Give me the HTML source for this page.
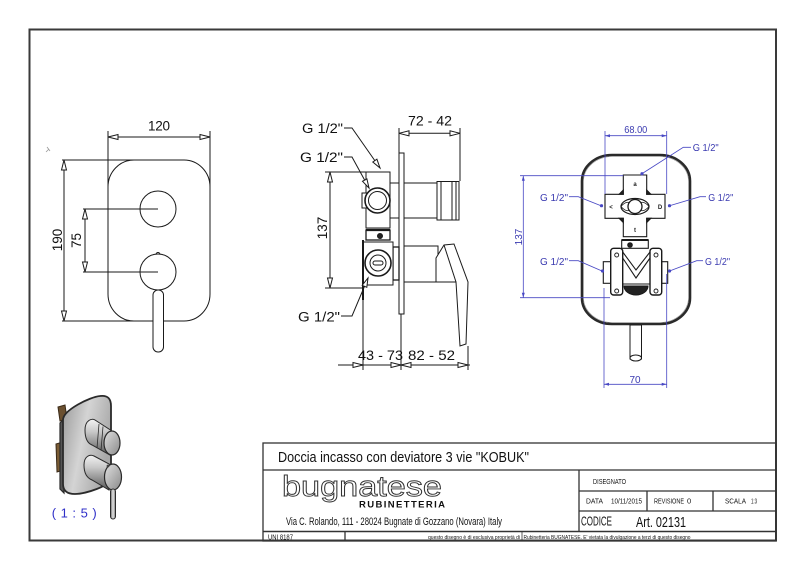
<!DOCTYPE html>
<html><head><meta charset="utf-8"><style>
html,body{margin:0;padding:0;background:#fff;}
svg{display:block;}
text{font-family:"Liberation Sans",Arial,sans-serif;}
.n{font-family:"Liberation Sans Narrow","Liberation Sans",sans-serif;}
</style></head><body>
<svg width="800" height="565" viewBox="0 0 800 565" xmlns="http://www.w3.org/2000/svg">
<defs>
<linearGradient id="pl" x1="0" y1="0" x2="1" y2="0.4">
<stop offset="0" stop-color="#9a9a9a"/><stop offset="0.5" stop-color="#d4d4d4"/><stop offset="1" stop-color="#a8a8a8"/></linearGradient>
<linearGradient id="cy" x1="0" y1="0" x2="0" y2="1">
<stop offset="0" stop-color="#f2f2f2"/><stop offset="0.35" stop-color="#c8c8c8"/><stop offset="1" stop-color="#5a5a5a"/></linearGradient>
<linearGradient id="ef" x1="0" y1="0" x2="1" y2="1">
<stop offset="0" stop-color="#e0e0e0"/><stop offset="1" stop-color="#8a8a8a"/></linearGradient>
<linearGradient id="lv" x1="0" y1="0" x2="1" y2="0">
<stop offset="0" stop-color="#666"/><stop offset="0.5" stop-color="#e6e6e6"/><stop offset="1" stop-color="#777"/></linearGradient>
</defs>
<rect x="0" y="0" width="800" height="565" fill="#fff"/>
<!-- frame -->
<rect x="29.5" y="29.5" width="746.5" height="511" fill="none" stroke="#3a3a3a" stroke-width="2"/>

<!-- ===== FRONT VIEW ===== -->
<g fill="none" stroke="#1a1a1a" stroke-width="1">
<path d="M46,152 l3,-3 M47,147 l3,4" stroke="#999" stroke-width="0.8"/>
<rect x="108" y="160" width="102" height="161" rx="26" ry="27"/>
<circle cx="158" cy="209" r="18"/>
<circle cx="158" cy="272" r="18"/>
<path d="M156,254.5 a2,2 0 0 1 4,0"/>
<rect x="153" y="290" width="10.5" height="62" rx="5" fill="#fff"/>
<!-- 120 -->
<line x1="108" y1="131" x2="108" y2="190"/>
<line x1="210" y1="131" x2="210" y2="190"/>
<line x1="108" y1="137" x2="210" y2="137"/>
<polygon points="108,137 118,134.5 118,139.5" fill="#fff"/>
<polygon points="210,137 200,134.5 200,139.5" fill="#fff"/>
<!-- 190 -->
<line x1="62" y1="160" x2="140" y2="160"/>
<line x1="62" y1="321" x2="140" y2="321"/>
<line x1="64" y1="160" x2="64" y2="321"/>
<polygon points="64,160 61.5,170 66.5,170" fill="#fff"/>
<polygon points="64,321 61.5,311 66.5,311" fill="#fff"/>
<!-- 75 -->
<line x1="83" y1="209" x2="158" y2="209"/>
<line x1="83" y1="272" x2="158" y2="272"/>
<line x1="85" y1="209" x2="85" y2="272"/>
<polygon points="85,209 82.5,219 87.5,219" fill="#fff"/>
<polygon points="85,272 82.5,262 87.5,262" fill="#fff"/>
</g>
<g fill="#111" font-size="13.5">
<text x="159" y="130.5" text-anchor="middle" textLength="22">120</text>
<text transform="translate(62,240) rotate(-90)" text-anchor="middle">190</text>
<text transform="translate(81,240.5) rotate(-90)" text-anchor="middle">75</text>
</g>

<!-- ===== SIDE VIEW ===== -->
<g fill="#fff" stroke="#1a1a1a" stroke-width="1">
<rect x="399" y="153" width="5" height="161"/>
<rect x="404" y="183" width="33" height="35"/>
<rect x="437" y="181.5" width="22" height="38.5"/>
<line x1="441" y1="181.5" x2="441" y2="220"/>
<line x1="452" y1="181.5" x2="452" y2="220"/>
<line x1="456" y1="181.5" x2="456" y2="220"/>
<rect x="390" y="183" width="9" height="35"/>
<rect x="366" y="172" width="24" height="56"/>
<rect x="362" y="193" width="5" height="15"/>
<circle cx="377.5" cy="200.5" r="12.5" stroke-width="1.6"/>
<circle cx="377.5" cy="200.5" r="9"/>
<rect x="366" y="230" width="24" height="10" stroke-width="1.3"/>
<line x1="366" y1="230" x2="390" y2="230" stroke-width="2.2"/>
<circle cx="380" cy="236" r="2.5" fill="#222"/>
<rect x="404" y="246" width="34" height="36"/>
<path d="M436,258 L444,245 L454,244 L468,282 L466,344 L460,346 L456,282 L436,282 Z"/>
<line x1="444" y1="245" x2="456" y2="282"/>
<rect x="393" y="247" width="6" height="33" stroke-width="1.3"/>
<rect x="363" y="242" width="30" height="43"/>
<line x1="363" y1="240" x2="363" y2="300" stroke-width="2"/>
<circle cx="378" cy="263" r="13" stroke-width="1.6"/>
<circle cx="378" cy="263" r="8"/>
<rect x="373" y="261" width="10" height="4" rx="2"/>
</g>
<g fill="none" stroke="#1a1a1a" stroke-width="1">
<!-- 72-42 -->
<line x1="399" y1="128" x2="399" y2="153"/>
<line x1="460" y1="128" x2="460" y2="181"/>
<line x1="399" y1="133.3" x2="460" y2="133.3"/>
<polygon points="399,133.3 409,130.8 409,135.8" fill="#fff"/>
<polygon points="460,133.3 450,130.8 450,135.8" fill="#fff"/>
<!-- 137 -->
<line x1="325" y1="172" x2="366" y2="172"/>
<line x1="325" y1="288" x2="362" y2="288"/>
<line x1="330" y1="172" x2="330" y2="288"/>
<polygon points="330,172 327.5,182 332.5,182" fill="#fff"/>
<polygon points="330,288 327.5,278 332.5,278" fill="#fff"/>
<!-- bottom -->
<line x1="363" y1="290" x2="363" y2="370"/>
<line x1="401" y1="314" x2="401" y2="370"/>
<line x1="468" y1="346" x2="468" y2="370"/>
<line x1="338" y1="365" x2="470" y2="365"/>
<polygon points="363,365 353,362.5 353,367.5" fill="#fff"/>
<polygon points="401,365 391,362.5 391,367.5" fill="#fff"/>
<polygon points="401,365 411,362.5 411,367.5" fill="#fff"/>
<polygon points="468,365 458,362.5 458,367.5" fill="#fff"/>
<!-- leaders -->
<polyline points="344,128 352,128 380,168"/>
<polygon points="380,168 372.8,162 376.9,159.2" fill="#fff"/>
<polyline points="344,157 352,157 369,188"/>
<polygon points="369,188 362.5,181.3 366.9,178.9" fill="#fff"/>
<polyline points="341,316 352,316 368,278"/>
<polygon points="368,278 366.8,287.3 362.2,285.3" fill="#fff"/>
</g>
<g fill="#111" font-size="13.5">
<text x="302" y="133" textLength="41" lengthAdjust="spacingAndGlyphs">G 1/2"</text>
<text x="300" y="162" textLength="43" lengthAdjust="spacingAndGlyphs">G 1/2"</text>
<text x="298" y="321.5" textLength="42" lengthAdjust="spacingAndGlyphs">G 1/2"</text>
<text x="408" y="125.7" textLength="44" lengthAdjust="spacingAndGlyphs">72 - 42</text>
<text transform="translate(327,228) rotate(-90)" text-anchor="middle">137</text>
<text x="358" y="360" textLength="45" lengthAdjust="spacingAndGlyphs" font-size="14">43 - 73</text>
<text x="408" y="360" textLength="47" lengthAdjust="spacingAndGlyphs" font-size="14">82 - 52</text>
</g>

<!-- ===== BACK VIEW ===== -->
<g fill="none" stroke="#1a1a1a">
<rect x="582" y="155" width="108" height="169" rx="30" ry="26" stroke="#2a2a2a" stroke-width="2.6"/>
<rect x="583.5" y="156.5" width="105" height="166" rx="29" ry="25" stroke="#999" stroke-width="0.6"/>
<rect x="630" y="325" width="11.5" height="34" fill="#fff" stroke-width="1"/>
<ellipse cx="635.75" cy="358" rx="5.75" ry="3" fill="#fff" stroke-width="1"/>
<g stroke-width="1.1" fill="#fff">
<path d="M623.3,175 H646.7 V194.3 H665 V218.3 H646.7 V236.7 H623.3 V218.3 H605 V194.3 H623.3 Z"/>
</g>
<path d="M619,194.3 L623.3,190 L623.3,194.3 Z M651,194.3 L646.7,190 L646.7,194.3 Z M619,218.3 L623.3,222.6 L623.3,218.3 Z M651,218.3 L646.7,222.6 L646.7,218.3 Z" fill="#222"/>
<ellipse cx="635" cy="206.5" rx="14" ry="8" stroke-width="1.2" fill="#fff"/>
<path d="M621,206.5 Q628,198 635,206.5 Q628,215 621,206.5 M649,206.5 Q642,198 635,206.5 Q642,215 649,206.5" stroke-width="0.8"/>
<circle cx="635" cy="206.5" r="7" stroke-width="1.3" fill="#fff"/>
<rect x="621.7" y="240" width="26.6" height="8.3" fill="#fff" stroke-width="1.1"/>
<line x1="621.7" y1="240" x2="648.3" y2="240" stroke-width="2"/>
<circle cx="630" cy="245" r="2.3" fill="#222"/>
<rect x="603.3" y="261.7" width="7.4" height="21.6" fill="#fff" stroke-width="1.1"/>
<rect x="661.7" y="261.7" width="6" height="21.6" fill="#fff" stroke-width="1.1"/>
<rect x="610.7" y="248.3" width="12" height="46.7" rx="3" fill="#fff" stroke-width="1.4"/>
<rect x="650" y="248.3" width="11.7" height="46.7" rx="3" fill="#fff" stroke-width="1.4"/>
<path d="M622.7,252 L636,270 L650,252 M622.7,258 L636,278 L650,258" stroke-width="1.1"/>
<path d="M624,286 A12,9 0 0 0 648,286 Z" fill="#222"/>
<line x1="622.7" y1="284" x2="650" y2="284" stroke-width="1"/>
<circle cx="616.7" cy="255" r="2" stroke-width="0.9"/>
<circle cx="656" cy="255" r="2" stroke-width="0.9"/>
<circle cx="616.7" cy="291" r="2" stroke-width="0.9"/>
<circle cx="656" cy="291" r="2" stroke-width="0.9"/>
</g>
<g fill="#222" font-size="6" text-anchor="middle" font-weight="bold">
<text x="635" y="186">a</text>
<text x="611" y="209">&lt;</text>
<text x="660" y="209">D</text>
<text x="635" y="232">t</text>
</g>
<!-- blue dims -->
<g fill="none" stroke="#4848c4" stroke-width="0.8">
<line x1="605" y1="131" x2="605" y2="194"/>
<line x1="666.7" y1="131" x2="666.7" y2="194"/>
<line x1="605" y1="135.7" x2="666.7" y2="135.7"/>
<line x1="520" y1="175.7" x2="623.3" y2="175.7"/>
<line x1="520" y1="297.7" x2="610" y2="297.7"/>
<line x1="523.3" y1="175.7" x2="523.3" y2="297.7"/>
<line x1="604" y1="288" x2="604" y2="388"/>
<line x1="666.7" y1="274" x2="666.7" y2="388"/>
<line x1="604" y1="384.3" x2="666.7" y2="384.3"/>
<polyline points="691,147.3 683.3,147.3 641.5,174"/>
<polyline points="569,196.7 578.3,196.7 601,205.7"/>
<polyline points="706,196.7 700,196.7 669.5,205.7"/>
<polyline points="569,260.7 578.3,260.7 602,271"/>
<polyline points="703,260.7 696.7,260.7 669.5,271"/>
</g>
<g fill="#4848c4" stroke="none">
<path d="M605,135.7 l5,-1.5 v3 z M666.7,135.7 l-5,-1.5 v3 z"/>
<path d="M523.3,175.7 l-1.5,5 h3 z M523.3,297.7 l-1.5,-5 h3 z"/>
<path d="M604,384.3 l5,-1.5 v3 z M666.7,384.3 l-5,-1.5 v3 z"/>
<circle cx="642" cy="173.7" r="1.6"/>
<circle cx="601.5" cy="205.7" r="1.6"/>
<circle cx="669.5" cy="205.7" r="1.6"/>
<circle cx="602.5" cy="271" r="1.6"/>
<circle cx="669.5" cy="271" r="1.6"/>
</g>
<g fill="#3a3ab0" font-size="10">
<text x="635.8" y="133" text-anchor="middle" textLength="23" lengthAdjust="spacingAndGlyphs">68.00</text>
<text transform="translate(522,237) rotate(-90)" text-anchor="middle">137</text>
<text x="635" y="383" text-anchor="middle">70</text>
<text x="692.7" y="151" textLength="26" lengthAdjust="spacingAndGlyphs">G 1/2"</text>
<text x="540" y="201" textLength="28" lengthAdjust="spacingAndGlyphs">G 1/2"</text>
<text x="708.3" y="201" textLength="25" lengthAdjust="spacingAndGlyphs">G 1/2"</text>
<text x="540" y="265" textLength="28" lengthAdjust="spacingAndGlyphs">G 1/2"</text>
<text x="705" y="265" textLength="25" lengthAdjust="spacingAndGlyphs">G 1/2"</text>
</g>

<!-- ===== 3D VIEW ===== -->
<g stroke="#2a2a2a" stroke-width="1">
<path d="M58,407 l7,-2 l2,14 l-7,2 Z" fill="#6b5030" stroke="#3a2a18"/>
<path d="M56,444 l7,-2 l1,28 l-7,2 Z" fill="#7a5c35" stroke="#3a2a18"/>
<path d="M63,420 L60,423 L60,489 L64,493 Z" fill="#555" stroke-width="1.2"/>
<path d="M63,420 C63,410 90,397 100,396 C108,395 111,399 111,406 L111,478 C111,486 85,494 75,494 C66,494 63,490 63,484 Z" fill="url(#pl)" stroke-width="1.8"/>
<!-- top knob -->
<path d="M85,430 C85,420 92,418 95,420 L112,431 L110,455 L92,445 C87,443 85,438 85,430 Z" fill="url(#cy)"/>
<line x1="99" y1="424" x2="97" y2="448" stroke-width="0.8"/>
<line x1="103" y1="426.5" x2="101" y2="450.5" stroke-width="0.8"/>
<ellipse cx="112" cy="443" rx="8" ry="12" fill="url(#ef)" stroke-width="1.2"/>
<!-- bottom knob -->
<path d="M84,465 C84,456 90,454 94,456 L111,465 L109,490 L92,480 C87,478 84,473 84,465 Z" fill="url(#cy)"/>
<ellipse cx="113" cy="477" rx="8.5" ry="13" fill="url(#ef)" stroke-width="1.2"/>
<circle cx="108" cy="466" r="1.4" fill="#444" stroke="none"/>
<rect x="110.5" y="489" width="5" height="30" rx="2.5" fill="url(#lv)"/>
</g>
<text x="51.7" y="517.3" fill="#3030c8" font-size="13" textLength="45">( 1 : 5 )</text>

<!-- ===== TITLE BLOCK ===== -->
<g fill="none" stroke="#333" stroke-width="1.3">
<rect x="263" y="443" width="513" height="98"/>
<line x1="263" y1="470" x2="776" y2="470"/>
<line x1="263" y1="531.5" x2="776" y2="531.5" stroke-width="1.6"/>
<line x1="579" y1="470" x2="579" y2="531.5"/>
<line x1="579" y1="491" x2="776" y2="491"/>
<line x1="579" y1="511" x2="776" y2="511"/>
<line x1="647" y1="491" x2="647" y2="511"/>
<line x1="713" y1="491" x2="713" y2="511"/>
<line x1="345" y1="531.5" x2="345" y2="541"/>
<line x1="522" y1="532" x2="522" y2="541" stroke-width="0.8"/>
</g>
<g fill="#111" class="n">
<text class="n" x="278" y="462" font-size="15" textLength="251" lengthAdjust="spacingAndGlyphs">Doccia incasso con deviatore 3 vie "KOBUK"</text>
<text class="n" x="286" y="525" font-size="11" textLength="216" lengthAdjust="spacingAndGlyphs">Via C. Rolando, 111 - 28024 Bugnate di Gozzano (Novara) Italy</text>
<text class="n" x="593" y="484" font-size="7" textLength="33" lengthAdjust="spacingAndGlyphs">DISEGNATO</text>
<text class="n" x="586" y="503.5" font-size="7.5" textLength="17" lengthAdjust="spacingAndGlyphs">DATA</text>
<text class="n" x="611" y="503.5" font-size="7.5" textLength="31" lengthAdjust="spacingAndGlyphs">10/11/2015</text>
<text class="n" x="654" y="503.5" font-size="7.5" textLength="30" lengthAdjust="spacingAndGlyphs">REVISIONE</text>
<text class="n" x="687" y="503.5" font-size="7.5">0</text>
<text class="n" x="725" y="503.5" font-size="7.5" textLength="21" lengthAdjust="spacingAndGlyphs">SCALA</text>
<text class="n" x="751" y="503.5" font-size="7.5" textLength="6" lengthAdjust="spacingAndGlyphs">1:3</text>
<text class="n" x="581" y="525.5" font-size="12.5" textLength="31" lengthAdjust="spacingAndGlyphs">CODICE</text>
<text class="n" x="636" y="527" font-size="15" textLength="50" lengthAdjust="spacingAndGlyphs">Art. 02131</text>
<text class="n" x="268" y="539.5" font-size="7" textLength="25" lengthAdjust="spacingAndGlyphs">UNI 8187</text>
<text class="n" x="428" y="539" font-size="5.5" textLength="92" lengthAdjust="spacingAndGlyphs">questo disegno è di esclusiva proprietà di</text>
<text class="n" x="523.5" y="539" font-size="5.5" textLength="167" lengthAdjust="spacingAndGlyphs">Rubinetteria BUGNATESE. E' vietata la divulgazione a terzi di questo disegno</text>
</g>
<text x="282" y="496" font-size="29" fill="none" stroke="#333" stroke-width="0.9" textLength="160" lengthAdjust="spacingAndGlyphs">bugnatese</text>
<text x="359" y="507.5" font-size="9.5" font-weight="bold" fill="#111" textLength="86" lengthAdjust="spacing">RUBINETTERIA</text>
</svg>
</body></html>
